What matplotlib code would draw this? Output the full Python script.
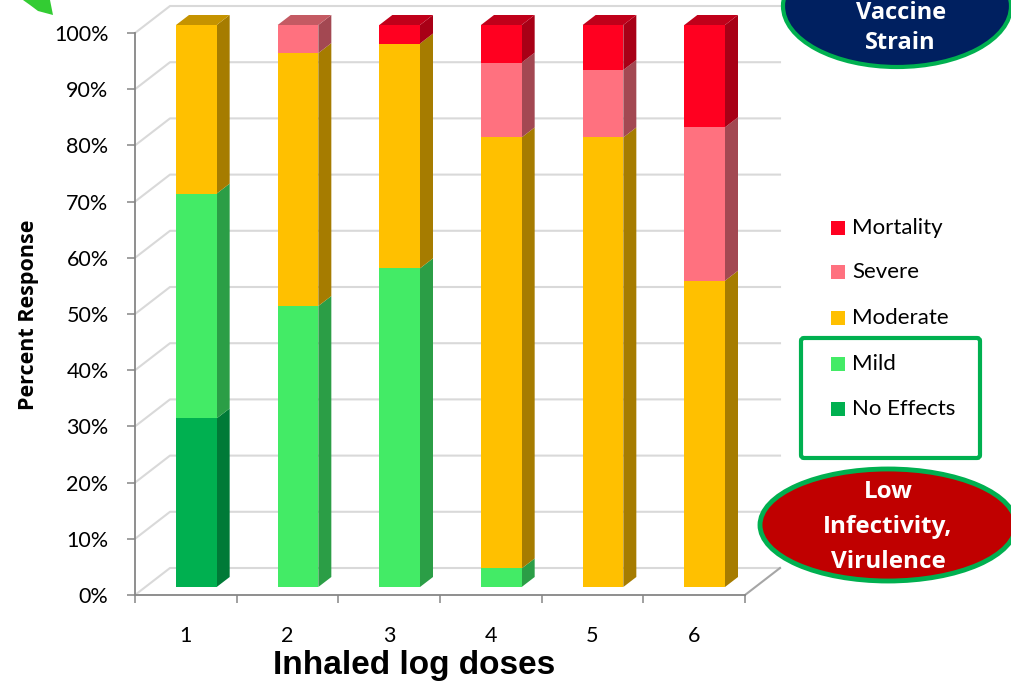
import matplotlib
matplotlib.use("Agg")
import matplotlib.pyplot as plt
from matplotlib.patches import Polygon, Rectangle, Ellipse, FancyBboxPatch

""" Dose response, stacked bars with a fake 3D look """

doses = ["1", "2", "3", "4", "5", "6"]
no_effects = [30, 0, 0, 0, 0, 0]
mild = [40, 50, 56.7, 3.3, 0, 0]
moderate = [30, 45, 40, 76.7, 80, 54.5]
severe = [0, 5, 0, 13.3, 12, 27.3]
mortality = [0, 0, 3.3, 6.7, 8, 18.2]

series_names = ["No Effects", "Mild", "Moderate", "Severe", "Mortality"]
series_values = [no_effects, mild, moderate, severe, mortality]
# front, side, top
face_colours = [
    ("#00B050", "#007A37", "#008A3E"),
    ("#43EB66", "#2B9E46", "#36C052"),
    ("#FFC000", "#A67C00", "#C59300"),
    ("#FF717F", "#A34852", "#C45A63"),
    ("#FF0020", "#A80016", "#C0001A"),
]

W, H = 1012, 684
fig = plt.figure(figsize=(W / 100, H / 100), dpi=100)
ax = fig.add_axes([135 / W, (H - 595) / H, 610 / W, 562 / H])
ax.set_xlim(0.5, len(doses) + 0.5)
ax.set_ylim(0, 100)

ppx = 610 / len(doses)
ppy = 562 / 100
BACK = (35, 27)
FRONT = (10.5, 8)
REAR = (23.5, 18)


def Off(x, y, d):
    return (x + d[0] / ppx, y + d[1] / ppy)


def Face(pts, colour, z):
    ax.add_patch(Polygon(pts, closed=True, facecolor=colour, edgecolor="none",
                         clip_on=False, zorder=z))


# walls and floor
x_lo, x_hi = 0.5, len(doses) + 0.5
grid_col = "#D9D9D9"
for v in range(0, 101, 10):
    p0 = (x_lo, v)
    p1 = Off(x_lo, v, BACK)
    p2 = Off(x_hi, v, BACK)
    ax.plot([p0[0], p1[0], p2[0]], [p0[1], p1[1], p2[1]], color=grid_col,
            lw=1.5, clip_on=False, zorder=1)
pr = Off(x_hi, 0, BACK)
ax.plot([x_hi, pr[0]], [0, pr[1]], color="#A6A6A6", lw=1.5, clip_on=False, zorder=1)

# bars
bar_w = 0.4
for i in range(len(doses)):
    c = i + 1
    x0, x1 = c - bar_w / 2, c + bar_w / 2
    bottom = 0
    top_idx = max(k for k in range(len(series_values)) if series_values[k][i] > 0)
    for k, vals in enumerate(series_values):
        v = vals[i]
        if v <= 0:
            continue
        b, t = bottom, bottom + v
        front_c, side_c, top_c = face_colours[k]
        Face([Off(x1, b, FRONT), Off(x1, b, REAR), Off(x1, t, REAR), Off(x1, t, FRONT)], side_c, 3)
        Face([Off(x0, b, FRONT), Off(x1, b, FRONT), Off(x1, t, FRONT), Off(x0, t, FRONT)], front_c, 4)
        if k == top_idx:
            Face([Off(x0, t, FRONT), Off(x1, t, FRONT), Off(x1, t, REAR), Off(x0, t, REAR)], top_c, 4)
        bottom = t

# axes
axis_col = "#868686"
for s in ["top", "right"]:
    ax.spines[s].set_visible(False)
for s in ["left", "bottom"]:
    ax.spines[s].set_color(axis_col)
    ax.spines[s].set_linewidth(1.3)
ax.set_yticks(range(0, 101, 10))
ax.set_yticklabels([f"{v}%" for v in range(0, 101, 10)], family="Lato", fontsize=15.5)
ax.tick_params(axis="y", length=6, width=1.1, color=axis_col, pad=13)
ax.set_xticks(range(1, len(doses) + 1))
ax.set_xticklabels(doses, family="Lato", fontsize=15.5)
ax.set_xticks([x_lo + k for k in range(len(doses) + 1)], minor=True)
ax.tick_params(axis="x", which="major", length=0, pad=22)
ax.tick_params(axis="x", which="minor", length=6, width=1.1, color=axis_col)
ax.set_facecolor("none")

# overlay in pixel coordinates for the annotations
ov = fig.add_axes([0, 0, 1, 1])
ov.set_xlim(0, W)
ov.set_ylim(H, 0)
ov.axis("off")
ov.set_zorder(5)

ov.text(29, 315, "Percent Response", rotation=90, ha="center", va="center",
        family="Open Sans", fontweight="bold", fontsize=15.5)
ov.text(414, 674, "Inhaled log doses", ha="center", va="baseline",
        family="Liberation Sans", fontweight="bold", fontsize=24)

# legend
leg_y = [409, 364, 318, 272, 228]
for k, name in enumerate(series_names):
    ov.add_patch(Rectangle((831, leg_y[k] - 7), 14, 14, facecolor=face_colours[k][0],
                           edgecolor="none"))
    ov.text(852, leg_y[k], name, ha="left", va="center", family="Lato", fontsize=16)
ov.add_patch(FancyBboxPatch((801, 338), 179, 120, boxstyle="round,pad=0,rounding_size=3",
                            facecolor="none", edgecolor="#00B050", lw=3))

# ovals
ov.add_patch(Ellipse((897, 6), 228, 122, facecolor="#002060", edgecolor="#00B050", lw=3))
ov.text(901, 13, "Vaccine", ha="center", va="center", color="white",
        family="Open Sans", fontweight="bold", fontsize=17)
ov.text(900, 43, "Strain", ha="center", va="center", color="white",
        family="Open Sans", fontweight="bold", fontsize=17)

ov.add_patch(Ellipse((888, 525), 256, 112, facecolor="#C00000", edgecolor="#00B050", lw=3.5))
for txt, yy in [("Low", 492), ("Infectivity,", 527), ("Virulence", 562)]:
    ov.text(888, yy, txt, ha="center", va="center", color="white",
            family="Open Sans", fontweight="bold", fontsize=17.5)

# arrow tip cut by the top edge
ov.add_patch(Polygon([(23, 0), (50, 0), (53, 15), (38, 11), (30, 5)], closed=True,
                     facecolor="#33CC33", edgecolor="none"))

fig.savefig("out.png", dpi=100)
